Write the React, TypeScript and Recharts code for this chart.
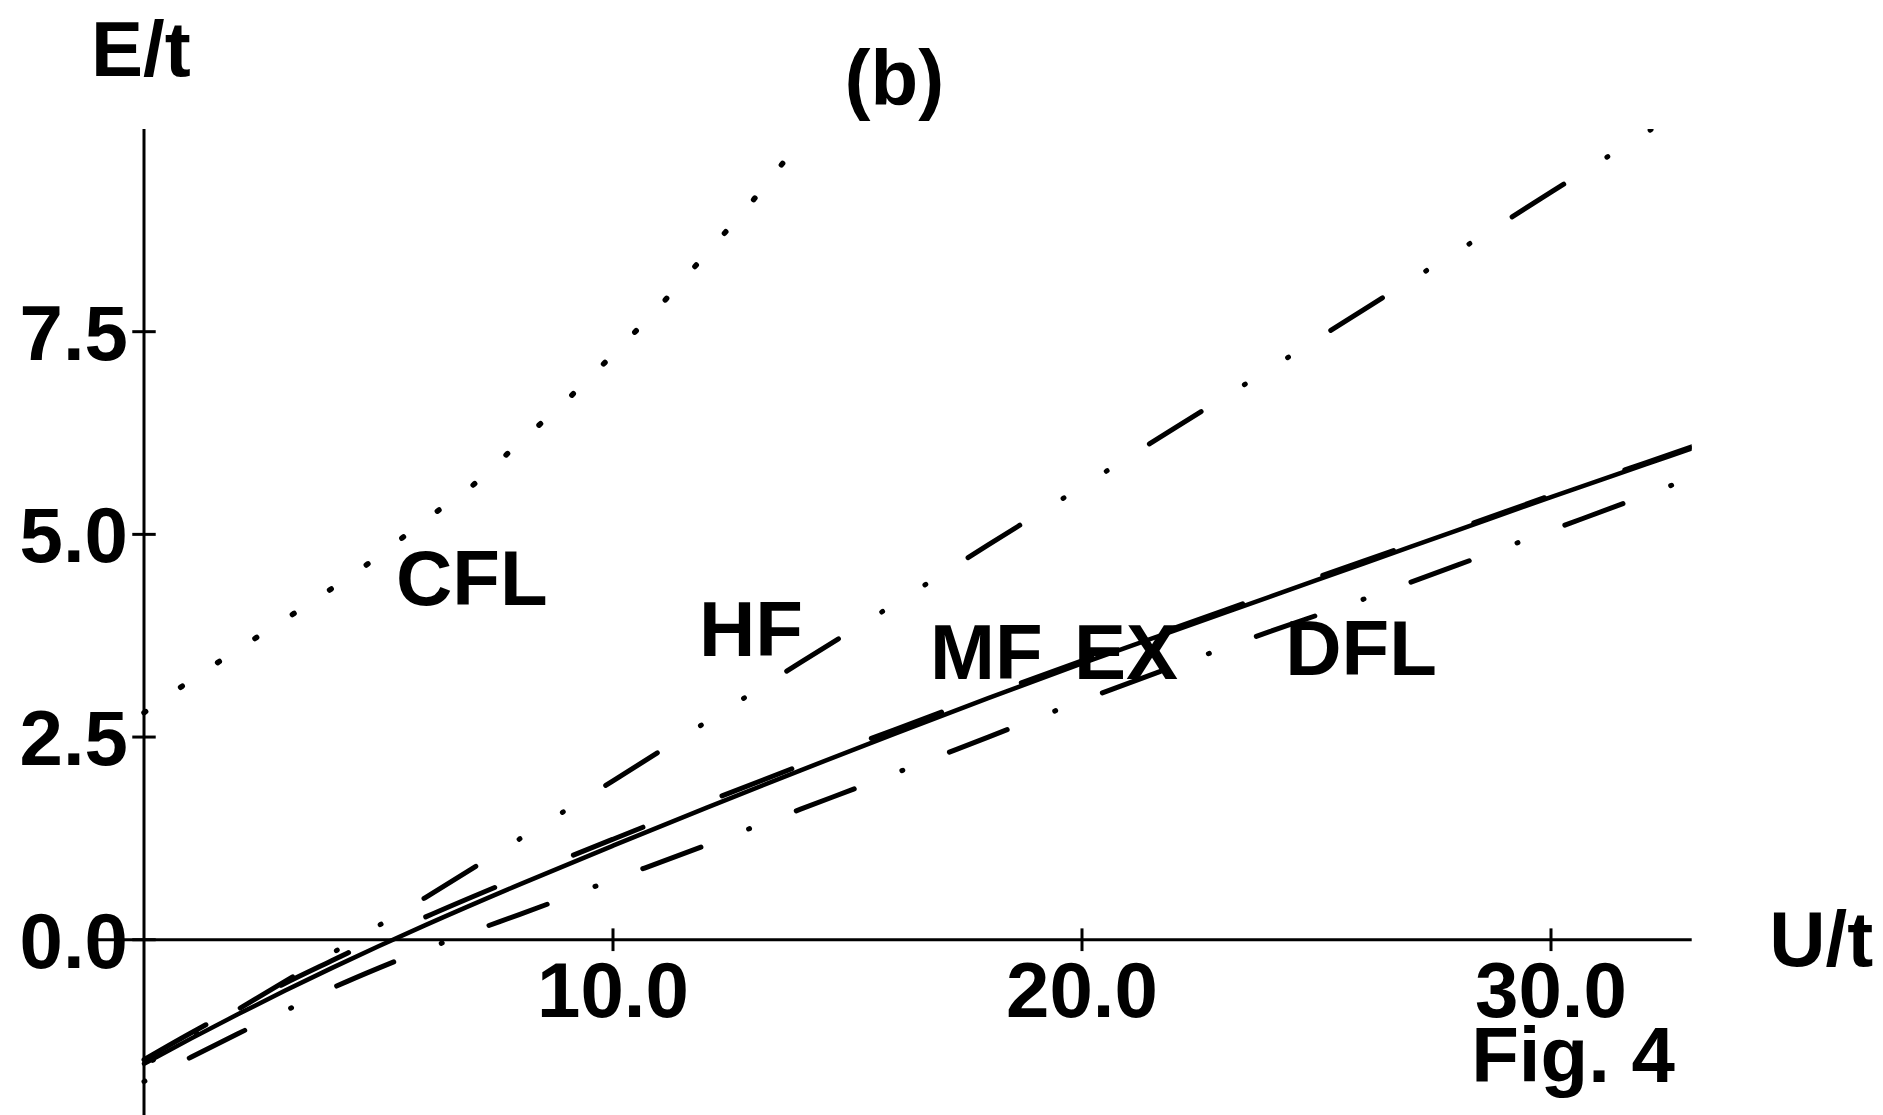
import React from "react";
import { ComposedChart, Line, XAxis, YAxis, ReferenceLine, ReferenceDot } from "recharts";

// ---- data (U/t on x, E/t on y) ----
const cflU = [0, 1, 2, 3, 4, 5, 6, 7, 8, 9, 10, 11, 12, 13, 13.85];
const cflE = [2.8, 3.2, 3.58, 3.95, 4.33, 4.73, 5.18, 5.6, 6.13, 6.65, 7.22, 7.82, 8.47, 9.13, 9.75];

const hfU = [0, 2, 4, 6, 8, 10, 12, 14, 16, 18, 20, 22, 24, 26, 28, 30, 32.15];
const hfE = [-1.55, -0.86, -0.17, 0.52, 1.24, 1.96, 2.69, 3.42, 4.14, 4.87, 5.59, 6.32, 7.04, 7.77, 8.49, 9.22, 10.0];

const exU = [0, 1, 2, 3, 4, 5, 6, 8, 10, 12, 14, 16, 18, 20, 22, 24, 26, 28, 30, 32, 33];
const exE = [-1.53, -1.22, -0.92, -0.63, -0.35, -0.08, 0.18, 0.68, 1.16, 1.63, 2.09, 2.54, 2.98, 3.41, 3.82, 4.23, 4.64, 5.05, 5.46, 5.86, 6.06];

const mfU = [0, 1, 2, 3, 4, 5, 6, 8, 10, 12, 14, 16, 18, 20, 22, 24, 26, 28, 30, 32, 33];
const mfE = [-1.48, -1.15, -0.84, -0.54, -0.26, 0.02, 0.28, 0.77, 1.24, 1.7, 2.15, 2.59, 3.02, 3.44, 3.85, 4.26, 4.67, 5.07, 5.48, 5.88, 6.08];

const dflU = [0, 1, 2, 3, 4, 5, 6, 7, 8, 10, 12, 14, 16, 18, 20, 22, 24, 26, 28, 30, 32, 33];
const dflE = [-1.75, -1.45, -1.16, -0.88, -0.6, -0.35, -0.12, 0.1, 0.31, 0.74, 1.17, 1.61, 2.05, 2.5, 2.95, 3.38, 3.8, 4.2, 4.62, 5.05, 5.48, 5.7];

const xTicks = [10, 20, 30];
const xTickLabels = ["10.0", "20.0", "30.0"];
const yTicks = [0, 2.5, 5, 7.5];
const yTickLabels = ["0.0", "2.5", "5.0", "7.5"];

const xDomain: [number, number] = [-1, 33];
const yDomain: [number, number] = [-2.3, 10];

// ---- annotations (text placed in data coordinates) ----
const annotations = [
  { text: "E/t", u: -1.13, e: 10.65, anchor: "start" },
  { text: "(b)", u: 16.0, e: 10.3, anchor: "middle" },
  { text: "CFL", u: 6.99, e: 4.13, anchor: "middle" },
  { text: "HF", u: 12.94, e: 3.5, anchor: "middle" },
  { text: "MF", u: 17.96, e: 3.21, anchor: "middle" },
  { text: "EX", u: 20.94, e: 3.21, anchor: "middle" },
  { text: "DFL", u: 25.95, e: 3.27, anchor: "middle" },
  { text: "U/t", u: 35.76, e: -0.32, anchor: "middle" },
  { text: "Fig. 4", u: 30.47, e: -1.75, anchor: "middle" },
];

const FONT = "'Liberation Sans', Arial, Helvetica, sans-serif";
const FS = 78;

const zip = (us: number[], es: number[]) => us.map((u, i) => ({ u, e: es[i] }));

const textShape = (text: string, dx: number, dy: number, anchor: string) => (p: any) => (
  <text
    x={p.cx + dx}
    y={p.cy + dy}
    textAnchor={anchor}
    fontFamily={FONT}
    fontSize={FS}
    fontWeight="bold"
    fill="#000"
  >
    {text}
  </text>
);

const W = 1883;
const H = 1130;

export default function App() {
  const lineCommon = {
    dataKey: "e",
    type: "monotone" as const,
    stroke: "#000",
    strokeWidth: 5,
    strokeLinecap: "round" as const,
    dot: false,
    activeDot: false,
    isAnimationActive: false,
  };
  return (
    <div style={{ position: "absolute", left: 0, top: 0, width: 1883, height: 1115, overflow: "hidden", background: "#fff" }}>
      <ComposedChart width={W} height={H} margin={{ top: 129, left: 97.1, right: 191.3, bottom: 3.8 }}>
        <XAxis type="number" dataKey="u" domain={xDomain} hide allowDataOverflow />
        <YAxis type="number" domain={yDomain} hide allowDataOverflow />

        {/* axes */}
        <ReferenceLine segment={[{ x: 0, y: yDomain[0] }, { x: 0, y: yDomain[1] }]} stroke="#000" strokeWidth={3} ifOverflow="visible" />
        <ReferenceLine segment={[{ x: xDomain[0], y: 0 }, { x: xDomain[1], y: 0 }]} stroke="#000" strokeWidth={3} ifOverflow="visible" />
        {xTicks.map((t) => (
          <ReferenceLine key={"xt" + t} segment={[{ x: t, y: -0.14 }, { x: t, y: 0.14 }]} stroke="#000" strokeWidth={3} ifOverflow="visible" />
        ))}
        {yTicks.map((t) => (
          <ReferenceLine key={"yt" + t} segment={[{ x: -0.25, y: t }, { x: 0.25, y: t }]} stroke="#000" strokeWidth={3} ifOverflow="visible" />
        ))}

        {/* series */}
        <Line {...lineCommon} data={zip(cflU, cflE)} strokeWidth={5.5} strokeDasharray="2 42.5" />
        <Line {...lineCommon} data={zip(hfU, hfE)} strokeDasharray="61 51 1 50 1 50" strokeDashoffset={102} />
        <Line {...lineCommon} data={zip(exU, exE)} strokeWidth={4.5} />
        <Line {...lineCommon} data={zip(mfU, mfE)} strokeDasharray="75 85" strokeDashoffset={4} />
        <Line {...lineCommon} data={zip(dflU, dflE)} strokeDasharray="62 51 1 50" strokeDashoffset={113} />

        {/* tick labels */}
        {xTicks.map((t, i) => (
          <ReferenceDot key={"xl" + t} x={t} y={0} r={0} ifOverflow="visible" shape={textShape(xTickLabels[i], 0, 77, "middle")} />
        ))}
        {yTicks.map((t, i) => (
          <ReferenceDot key={"yl" + t} x={0} y={t} r={0} ifOverflow="visible" shape={textShape(yTickLabels[i], -16, 28, "end")} />
        ))}

        {/* annotations */}
        {annotations.map((a) => (
          <ReferenceDot key={a.text} x={a.u} y={a.e} r={0} ifOverflow="visible" shape={textShape(a.text, 0, 0, a.anchor)} />
        ))}
      </ComposedChart>
    </div>
  );
}
